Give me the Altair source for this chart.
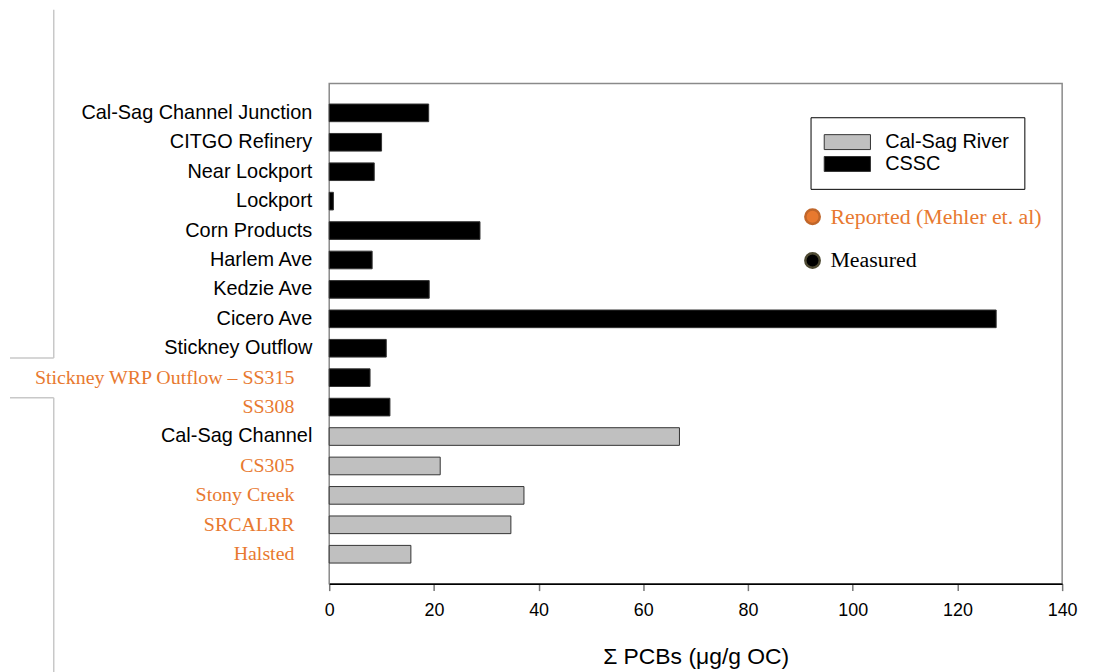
import altair as alt
import pandas as pd

sites = [
    "Cal-Sag Channel Junction", "CITGO Refinery", "Near Lockport", "Lockport",
    "Corn Products", "Harlem Ave", "Kedzie Ave", "Cicero Ave", "Stickney Outflow",
    "Stickney WRP Outflow – SS315", "SS308", "Cal-Sag Channel", "CS305",
    "Stony Creek", "SRCALRR", "Halsted",
]
values = [19.0, 10.0, 8.6, 0.8, 28.8, 8.2, 19.1, 127.4, 10.9, 7.8, 11.6, 66.9, 21.2, 37.2, 34.7, 15.6]
rivers = ["CSSC"] * 11 + ["Cal-Sag River"] * 5
sources = ["Measured"] * 9 + ["Reported"] * 2 + ["Measured"] + ["Reported"] * 4

river_domain = ["Cal-Sag River", "CSSC"]
river_colors = ["#C0C0C0", "#000000"]
annot_labels = ["Reported (Mehler et. al)", "Measured"]
annot_fill = ["#E8792F", "#000000"]
annot_stroke = ["#C0662A", "#4E4A33"]

ORANGE = "#E8792F"

df = pd.DataFrame({"site": sites, "value": values, "river": rivers, "source": sources})
annot = pd.DataFrame({"label": annot_labels})
one = pd.DataFrame({"a": [0]})

yscale = alt.Scale(domain=sites, paddingInner=0.4, paddingOuter=0.7)

bars = alt.Chart(df).mark_bar(stroke="#333333", strokeWidth=1).encode(
    x=alt.X("value:Q", scale=alt.Scale(domain=[0, 140], nice=False),
            axis=alt.Axis(values=[0, 20, 40, 60, 80, 100, 120, 140], grid=False, labelFlush=False,
                          title="Σ PCBs (μg/g OC)", titleFontSize=23, titleFont="Liberation Sans",
                          titleFontWeight="normal", titleColor="#000000", titlePadding=26,
                          labelFont="Liberation Sans", labelFontSize=18, labelColor="#000000",
                          labelPadding=11, tickSize=7, tickColor="#777777", tickWidth=1.5,
                          domainColor="#000000", domainWidth=1.5)),
    y=alt.Y("site:N", sort=sites, scale=yscale,
            axis=alt.Axis(labels=False, title=None, tickSize=6, tickColor="#444444",
                          tickWidth=1.5, domainColor="#000000", domainWidth=1.5, grid=False)),
    color=alt.Color("river:N", scale=alt.Scale(domain=river_domain, range=river_colors),
                    legend=alt.Legend(title=None, orient="none", legendX=484, legendY=34,
                                      direction="vertical",
                                      symbolType="M-3.1,-1H3.1V1H-3.1Z", symbolSize=225,
                                      symbolOffset=12,
                                      symbolStrokeColor="#333333", symbolStrokeWidth=1,
                                      labelFont="Liberation Sans", labelFontSize=20,
                                      labelColor="#000000", labelOffset=28,
                                      strokeColor="#000000", fillColor="#FFFFFF",
                                      padding=15, rowPadding=2)),
)

lab_measured = alt.Chart(df).transform_filter(alt.datum.source == "Measured").mark_text(
    align="right", baseline="middle", font="Liberation Sans", fontSize=20, color="#000000"
).encode(
    y=alt.Y("site:N", sort=sites, scale=yscale, axis=None),
    x=alt.value(-17),
    text="site:N",
)

lab_reported = alt.Chart(df).transform_filter(alt.datum.source == "Reported").mark_text(
    align="right", baseline="middle", font="Liberation Serif", fontSize=20, color=ORANGE
).encode(
    y=alt.Y("site:N", sort=sites, scale=yscale, axis=None),
    x=alt.value(-35),
    text="site:N",
)

ay = alt.Y("label:N", scale=alt.Scale(domain=annot_labels, range=[134, 178], padding=0), axis=None)
afill = alt.Fill("label:N", scale=alt.Scale(domain=annot_labels, range=annot_fill), legend=None)

annot_pts = alt.Chart(annot).mark_point(filled=True, size=210, strokeWidth=2.5, opacity=1).encode(
    y=ay, x=alt.value(486), fill=afill,
    stroke=alt.Stroke("label:N", scale=alt.Scale(domain=annot_labels, range=annot_stroke), legend=None),
)
annot_txt = alt.Chart(annot).mark_text(
    align="left", baseline="middle", font="Liberation Serif", fontSize=22
).encode(y=ay, x=alt.value(504), fill=afill, text="label:N")

line_style = dict(color="#C8C8C8", strokeWidth=1.5)
r1 = alt.Chart(one).mark_rule(**line_style).encode(x=alt.value(-277), y=alt.value(-74), y2=alt.value(276))
r2 = alt.Chart(one).mark_rule(**line_style).encode(x=alt.value(-321), x2=alt.value(-277), y=alt.value(276))
r3 = alt.Chart(one).mark_rule(**line_style).encode(x=alt.value(-321), x2=alt.value(-277), y=alt.value(316))
r4 = alt.Chart(one).mark_rule(**line_style).encode(x=alt.value(-277), y=alt.value(316), y2=alt.value(595))

main = alt.layer(bars, lab_measured, lab_reported)
ann = alt.layer(annot_pts, annot_txt)

chart = alt.layer(r1, r2, r3, r4, main, ann).resolve_scale(y="independent").properties(
    width=737, height=503,
    autosize=alt.AutoSizeParams(type="none"),
    padding={"left": 323, "top": 74, "right": 27, "bottom": 90},
).configure_view(stroke="#8A8A8A", strokeWidth=1.5)

chart.save("out.html", embed_options={"renderer": "svg", "actions": False})
